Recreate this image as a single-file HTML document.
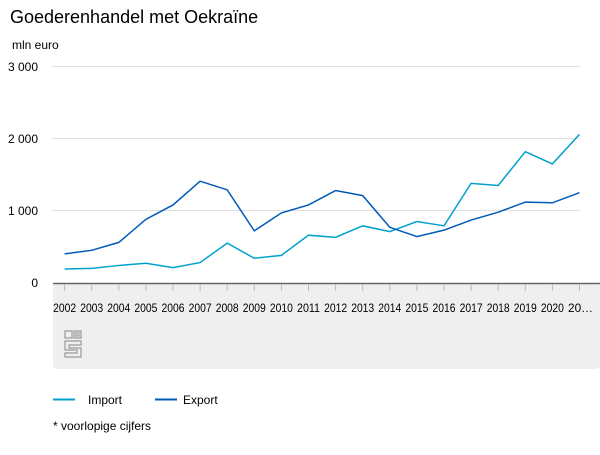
<!DOCTYPE html><html><head><style>body{margin:0;background:#fff;font-family:"Liberation Sans",Arial,sans-serif}</style></head><body>
<svg width="600" height="450" viewBox="0 0 600 450" xmlns="http://www.w3.org/2000/svg" font-family="Liberation Sans, Arial, sans-serif">
<text x="10" y="23" font-size="18" fill="#000">Goederenhandel met Oekraïne</text>
<text x="12" y="49" font-size="12" fill="#000">mln euro</text>
<g stroke="#e0e0e0" stroke-width="1">
<line x1="52" y1="66.5" x2="580" y2="66.5"/><line x1="52" y1="138.5" x2="580" y2="138.5"/><line x1="52" y1="210.5" x2="580" y2="210.5"/></g>
<g font-size="12" fill="#000" text-anchor="end"><text x="38" y="71">3 000</text><text x="38" y="143">2 000</text><text x="38" y="215">1 000</text><text x="38" y="287">0</text></g>
<rect x="53" y="283" width="547" height="86" rx="4" fill="#efefef"/>
<line x1="53" y1="283.5" x2="600" y2="283.5" stroke="#666" stroke-width="1.5"/>
<g stroke="#bbb" stroke-width="1" id="t"></g>
<g font-size="12" fill="#000" id="lab"></g>
<g fill="none" stroke="#999" stroke-width="1.2"><rect x="65" y="331" width="7" height="7"/><rect x="74" y="331" width="7" height="7"/><rect x="76" y="333" width="3" height="3"/><path d="M65 341h16v4h-12v3h12v9h-16v-4h12v-3h-12z"/></g>
<polyline id="imp" fill="none" stroke="#00a1cd" stroke-width="1.5"/>
<polyline id="exp" fill="none" stroke="#0058b8" stroke-width="1.5"/>
<line x1="53" y1="399.5" x2="75" y2="399.5" stroke="#00a1cd" stroke-width="2"/>
<text x="88" y="404" font-size="12">Import</text>
<line x1="155" y1="399.5" x2="177" y2="399.5" stroke="#0058b8" stroke-width="2"/>
<text x="183" y="404" font-size="12">Export</text>
<text x="53" y="430" font-size="12">* voorlopige cijfers</text>
</svg>
<script>
var imp=[180,190,230,260,200,270,540,330,370,650,620,780,700,840,780,1370,1340,1810,1640,2050];
var ex=[390,440,550,870,1070,1400,1280,710,960,1070,1270,1200,760,630,720,860,970,1110,1100,1240];
function X(i){return 64.6+27.1*i}function Y(v){return 282-v*0.072}
document.getElementById('imp').setAttribute('points',imp.map((v,i)=>X(i)+','+Y(v)).join(' '));
document.getElementById('exp').setAttribute('points',ex.map((v,i)=>X(i)+','+Y(v)).join(' '));
var ns='http://www.w3.org/2000/svg',t=document.getElementById('t'),l=document.getElementById('lab');
for(var i=0;i<20;i++){var a=document.createElementNS(ns,'line');a.setAttribute('x1',X(i));a.setAttribute('x2',X(i));a.setAttribute('y1',284);a.setAttribute('y2',291);t.appendChild(a);
var s=document.createElementNS(ns,'text');s.setAttribute('x',X(i)-11.5);s.setAttribute('y',312);s.setAttribute('textLength',i<19?23:25);s.setAttribute('lengthAdjust','spacingAndGlyphs');s.textContent=i<19?(2002+i):'20…';l.appendChild(s);}
</script>
</body></html>
